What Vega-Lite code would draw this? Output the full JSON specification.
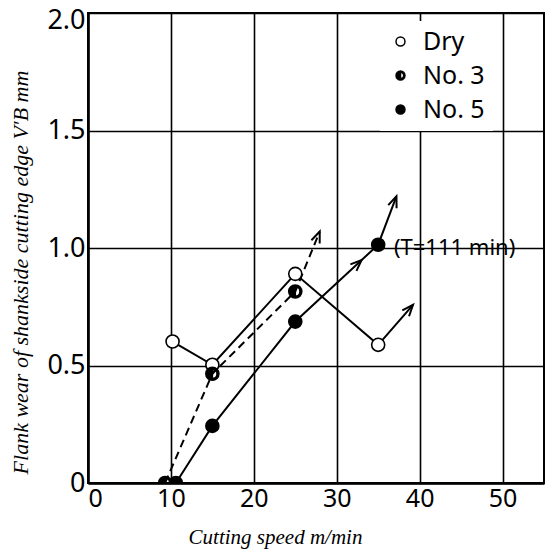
{
  "$schema": "https://vega.github.io/schema/vega-lite/v6.json",
  "width": 456,
  "height": 470,
  "autosize": "none",
  "padding": {"left": 88, "top": 13, "right": 3, "bottom": 67},
  "background": "white",
  "config": {
    "view": {"stroke": "black", "strokeWidth": 2},
    "axis": {
      "grid": true,
      "gridColor": "black",
      "gridWidth": 1.6,
      "gridOpacity": 1,
      "ticks": false,
      "domain": true,
      "domainColor": "black",
      "domainWidth": 2.5,
      "labelFont": "Noto Sans",
      "labelColor": "black",
      "titleFont": "Liberation Serif",
      "titleFontStyle": "italic",
      "titleFontWeight": "normal",
      "titleColor": "black"
    }
  },
  "data": {
    "values": [
      {"series": "Dry", "speed": 10.2, "wear": 0.602, "kind": "m"},
      {"series": "Dry", "speed": 15, "wear": 0.503, "kind": "m"},
      {"series": "Dry", "speed": 25, "wear": 0.89, "kind": "m"},
      {"series": "Dry", "speed": 35, "wear": 0.588, "kind": "m"},
      {"series": "Dry", "speed": 39.2, "wear": 0.758, "kind": "tip"},
      {"series": "No. 3", "speed": 9.3, "wear": 0, "kind": "m"},
      {"series": "No. 3", "speed": 15, "wear": 0.465, "kind": "m"},
      {"series": "No. 3", "speed": 25, "wear": 0.815, "kind": "m"},
      {"series": "No. 3", "speed": 27.95, "wear": 1.07, "kind": "tip"},
      {"series": "No. 5", "speed": 10.6, "wear": 0, "kind": "m"},
      {"series": "No. 5", "speed": 15, "wear": 0.243, "kind": "m"},
      {"series": "No. 5", "speed": 25, "wear": 0.687, "kind": "m"},
      {"series": "No. 5", "speed": 35, "wear": 1.014, "kind": "m"},
      {"series": "No. 5", "speed": 37.2, "wear": 1.22, "kind": "tip"},
      {"series": "No. 5", "speed": 33, "wear": 0.949, "kind": "mid"}
    ]
  },
  "encoding": {
    "x": {
      "field": "speed",
      "type": "quantitative",
      "scale": {"domain": [0, 55], "nice": false, "zero": false},
      "axis": {
        "values": [0, 10, 20, 30, 40, 50],
        "labelFontSize": 25,
        "labelPadding": 3,
        "title": "Cutting  speed   m/min",
        "titleFontSize": 21,
        "titleX": 187,
        "titleY": 43,
        "titleAnchor": "middle"
      }
    },
    "y": {
      "field": "wear",
      "type": "quantitative",
      "scale": {"domain": [0, 2], "nice": false},
      "axis": {
        "values": [0, 0.5, 1, 1.5, 2],
        "labelExpr": "datum.value === 0 ? '0' : format(datum.value, '.1f')",
        "labelFontSize": 27,
        "labelPadding": 3,
        "labelOffset": {"condition": {"test": "datum.value === 2", "value": 7}, "value": 0},
        "title": "Flank  wear  of  shankside  cutting  edge  V′B  mm",
        "titleFontSize": 22,
        "titleX": -56,
        "titleY": 259
      }
    }
  },
  "layer": [
    {
      "transform": [{"filter": "datum.kind !== 'mid' && datum.series !== 'No. 3'"}],
      "mark": {"type": "line", "color": "black", "strokeWidth": 2},
      "encoding": {"detail": {"field": "series", "type": "nominal"}}
    },
    {
      "transform": [{"filter": "datum.series === 'No. 3'"}],
      "mark": {"type": "line", "color": "black", "strokeWidth": 2, "strokeDash": [8, 5]},
      "encoding": {}
    },
    {
      "transform": [{"filter": "datum.kind === 'tip' && datum.series === 'Dry'"}],
      "mark": {"type": "point", "shape": "M-0.4,1L0,0L0.4,1", "size": 500, "stroke": "black", "strokeWidth": 2, "fill": null, "filled": false, "opacity": 1, "angle": 41},
      "encoding": {}
    },
    {
      "transform": [{"filter": "datum.kind === 'tip' && datum.series === 'No. 3'"}],
      "mark": {"type": "point", "shape": "M-0.4,1L0,0L0.4,1", "size": 500, "stroke": "black", "strokeWidth": 2, "fill": null, "filled": false, "opacity": 1, "angle": 22},
      "encoding": {}
    },
    {
      "transform": [{"filter": "datum.kind === 'tip' && datum.series === 'No. 5'"}],
      "mark": {"type": "point", "shape": "M-0.4,1L0,0L0.4,1", "size": 500, "stroke": "black", "strokeWidth": 2, "fill": null, "filled": false, "opacity": 1, "angle": 21},
      "encoding": {}
    },
    {
      "transform": [{"filter": "datum.kind === 'mid'"}],
      "mark": {"type": "point", "shape": "M-0.4,1L0,0L0.4,1", "size": 500, "stroke": "black", "strokeWidth": 2, "fill": null, "filled": false, "opacity": 1, "angle": 47},
      "encoding": {}
    },
    {
      "transform": [{"filter": "datum.kind === 'm'"}],
      "mark": {"type": "point", "filled": true, "stroke": "black", "strokeWidth": 1.6, "size": 170, "opacity": 1, "clip": true},
      "encoding": {
        "fill": {
          "field": "series",
          "type": "nominal",
          "scale": {"domain": ["Dry", "No. 3", "No. 5"], "range": ["white", "black", "black"]},
          "legend": {
            "title": null,
            "orient": "none",
            "legendX": 292,
            "legendY": 8,
            "fillColor": "white",
            "padding": 8,
            "labelFont": "Noto Sans",
            "labelFontSize": 25,
            "labelColor": "black",
            "labelOffset": 10,
            "rowPadding": 8,
            "symbolSize": 80,
            "symbolStrokeColor": "black",
            "symbolStrokeWidth": 1.5
          }
        },
        "shape": {
          "field": "series",
          "type": "nominal",
          "scale": {"domain": ["Dry", "No. 3", "No. 5"], "range": ["circle", "M0,-1A1,1,0,1,1,0,1A1,1,0,1,1,0,-1ZM0,-0.72L0,0.72A0.72,0.72,0,0,0,0,-0.72Z", "circle"]}
        }
      }
    },
    {
      "data": {"values": [{"speed": 36.9, "wear": 1.0, "label": "(T=111 min)"}]},
      "mark": {"type": "text", "align": "left", "baseline": "middle", "font": "Noto Sans", "fontSize": 22, "color": "black"},
      "encoding": {"text": {"field": "label"}}
    }
  ]
}
